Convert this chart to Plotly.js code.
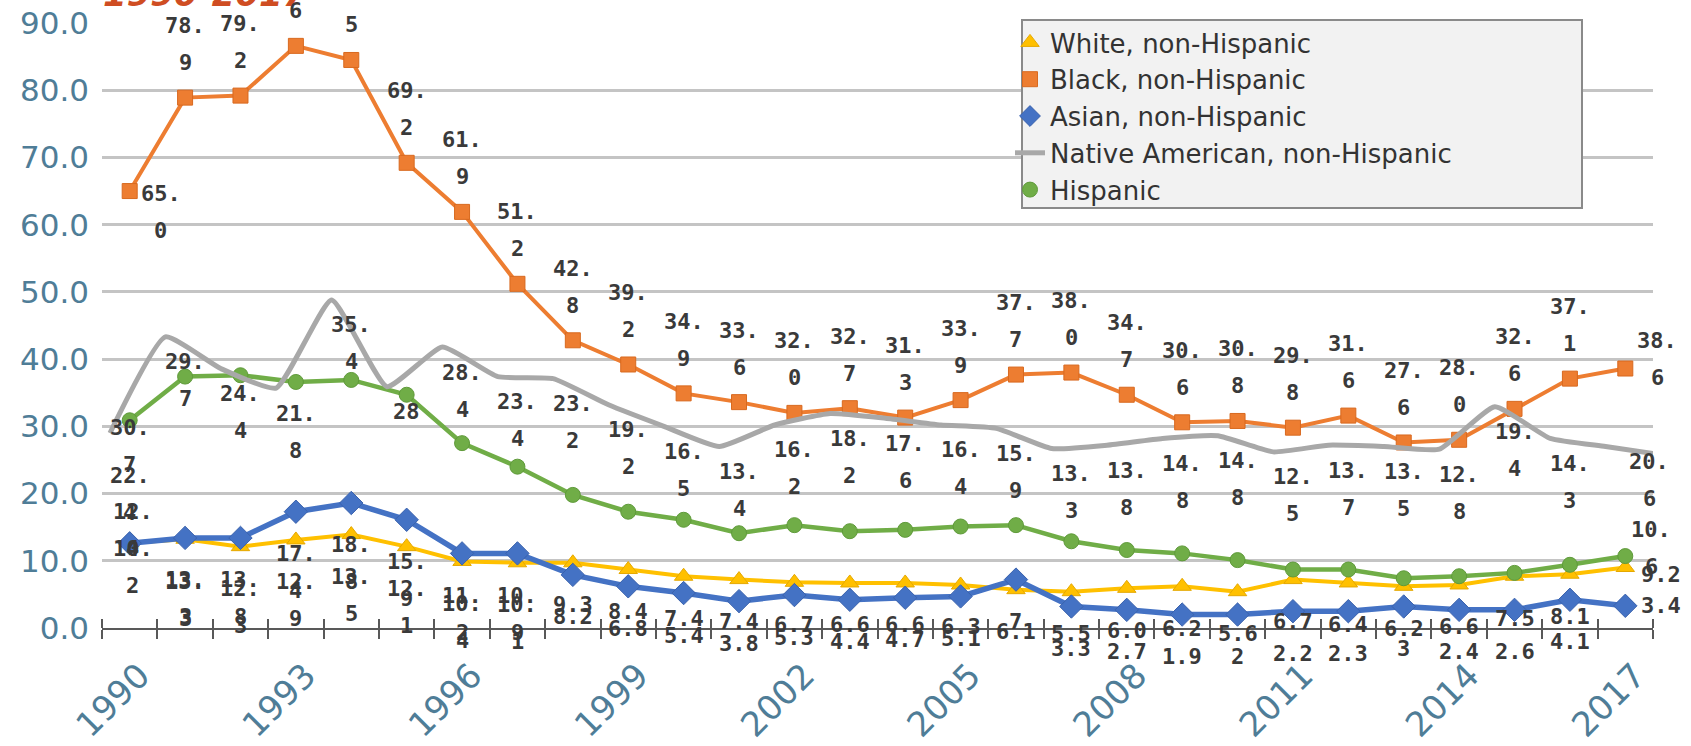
<!DOCTYPE html>
<html>
<head>
<meta charset="utf-8">
<script src="https://cdn.plot.ly/plotly-3.0.1.min.js"></script>
<style>html,body{margin:0;padding:0;background:#fff;}#chart{width:1691px;height:746px;}</style>
</head>
<body>
<div id="chart"></div>
<script>
// ---- data ----
const years = [1990,1991,1992,1993,1994,1995,1996,1997,1998,1999,2000,2001,2002,2003,2004,2005,2006,2007,2008,2009,2010,2011,2012,2013,2014,2015,2016,2017];
const tickYears = [1990,1993,1996,1999,2002,2005,2008,2011,2014,2017];
const tickLabels = ['1990','1993','1996','1999','2002','2005','2008','2011','2014','2017'];
const seriesNames = ['White, non-Hispanic','Black, non-Hispanic','Asian, non-Hispanic','Native American, non-Hispanic','Hispanic'];

const white = [12.7,13.2,12.1,13.1,13.9,12.1,9.9,9.7,9.7,8.7,7.7,7.2,6.8,6.7,6.7,6.4,5.7,5.4,5.9,6.2,5.4,7.2,6.7,6.2,6.4,7.7,8.0,9.0];
const black = [65.0,78.9,79.2,86.6,84.5,69.2,61.9,51.2,42.8,39.2,34.9,33.6,32.0,32.7,31.3,33.9,37.7,38.0,34.7,30.6,30.8,29.8,31.6,27.6,28.0,32.6,37.1,38.6];
const asian = [12.6,13.4,13.4,17.3,18.6,16.1,11.1,11.1,7.9,6.2,5.2,4.0,4.9,4.2,4.5,4.7,7.2,3.2,2.7,2.0,2.0,2.5,2.5,3.2,2.7,2.7,4.2,3.3];
const nativeAm = [29.0,43.3,38.6,35.7,48.8,35.9,41.8,37.4,37.1,33.2,30.0,27.0,30.2,31.9,31.2,30.2,29.7,26.7,27.2,28.2,28.6,26.2,27.2,27.0,26.6,32.9,28.2,27.0,25.8];
const hispanic = [30.9,37.4,37.6,36.6,36.9,34.7,27.5,24.0,19.8,17.3,16.1,14.1,15.3,14.4,14.6,15.1,15.3,12.9,11.6,11.1,10.1,8.7,8.7,7.4,7.7,8.2,9.4,10.7];

const whiteLabels = ['12.4','13.3','12.3','12.9','13.5','12.1','10.4','10.1','9.3','8.4','7.4','7.4','6.7','6.6','6.6','6.3','6.1','5.5','6.0','6.2','5.6','6.7','6.4','6.2','6.6','7.5','8.1','9.2'];
const blackLabels = ['65.0','78.9','79.2','86.6','84.5','69.2','61.9','51.2','42.8','39.2','34.9','33.6','32.0','32.7','31.3','33.9','37.7','38.0','34.7','30.6','30.8','29.8','31.6','27.6','28.0','32.6','37.1','38.6'];
const asianLabels = ['10.2','13.3','13.8','17.4','18.8','15.9','11.2','10.9','8.2','6.8','5.4','3.8','5.3','4.4','4.7','5.1','7','3.3','2.7','1.9','2','2.2','2.3','3','2.4','2.6','4.1','3.4'];
const nativeLabels = ['30.7','29.7','24.4','21.8','35.4','28','28.4','23.4','23.2','19.2','16.5','13.4','16.2','18.2','17.6','16.4','15.9','13.3','13.8','14.8','14.8','12.5','13.7','13.5','12.8','19.4','14.3','20.6'];
const hispanicLabels = ['22.4','','','','','','','','','','','','','','','','','','','','','','','','','','','10.6'];

// ---- styles ----
const FONT = 'DejaVu Sans, Verdana, sans-serif';
const AXIS_BLUE = '#4f7d97';
const colors = {white:'#ffc000', black:'#ed7d31', asian:'#4472c4', nativeAm:'#a8a8a8', hispanic:'#70ad47'};
const labelFont = {family:'DejaVu Sans Mono, monospace', size:22, color:'#3a3a3a', weight:'bold'};
const LINE_GAP = 37;

const nativeIdx = nativeAm.map((_, i) => i);

function lineTrace(x, y, color, width) {
  return {x:x, y:y, mode:'lines', showlegend:false, hoverinfo:'skip', line:{color:color, width:width}};
}
function markerTrace(x, y, name, color, edge, symbol, size) {
  return {x:x, y:y, mode:'markers', name:name, hoverinfo:'skip',
          marker:{symbol:symbol, size:size, color:color, line:{color:edge, width:1}}};
}

const data = [
  lineTrace(years, white, colors.white, 4),
  markerTrace(years, white, seriesNames[0], colors.white, '#e5a800', 'triangle-up', 16),
  lineTrace(years, black, colors.black, 4),
  markerTrace(years, black, seriesNames[1], colors.black, '#d8691f', 'square', 15),
  lineTrace(years, asian, colors.asian, 5.5),
  markerTrace(years, asian, seriesNames[2], colors.asian, '#3a62ad', 'diamond', 18),
  {x:nativeIdx, y:nativeAm, mode:'lines', xaxis:'x2', name:seriesNames[3], hoverinfo:'skip',
   line:{color:colors.nativeAm, width:5, shape:'spline', smoothing:0.45}},
  lineTrace(years, hispanic, colors.hispanic, 4.5),
  markerTrace(years, hispanic, seriesNames[4], colors.hispanic, '#5f9a3a', 'circle', 15)
];

// ---- data labels (two-line wrap like the original) ----
const annotations = [];
function splitLabel(s) {
  const i = s.indexOf('.');
  if (s.length >= 4 && i >= 0) return [s.slice(0, i + 1), s.slice(i + 1)];
  return [s];
}
function addLabels(xs, ys, labels, rule) {
  const n = labels.length;
  labels.forEach((s, i) => {
    if (!s) return;
    const lines = splitLabel(s);
    const p = rule(i, n, lines.length);
    lines.forEach((t, j) => {
      annotations.push({x:xs[i], y:ys[i], xref:'x', yref:'y', text:t, showarrow:false,
        xanchor:'center', yanchor:'middle', xshift:p.dx, yshift:-(p.dy + j * LINE_GAP), font:labelFont});
    });
  });
}
addLabels(years, black, blackLabels, (i, n, k) => i === 0 ? {dx:31, dy:2} : i === n - 1 ? {dx:32, dy:-28} : {dx:0, dy:k === 2 ? -72 : -35});
addLabels(years, nativeAm, nativeLabels, (i, n) => i === 0 ? {dx:0, dy:-6} : i === n - 1 ? {dx:24, dy:15} : {dx:0, dy:25});
addLabels(years, hispanic, hispanicLabels, (i, n) => i === 0 ? {dx:0, dy:55} : {dx:26, dy:-27});
addLabels(years, white, whiteLabels, (i, n) => i === 0 ? {dx:3, dy:-31} : i === n - 1 ? {dx:36, dy:7} : {dx:0, dy:42});
addLabels(years, asian, asianLabels, (i, n) => i === 0 ? {dx:3, dy:5} : i === n - 1 ? {dx:36, dy:0} : {dx:0, dy:42});

// ---- layout ----
const W = 1691, H = 746;
const M = {l:102, r:38, t:23, b:118};
const pw = W - M.l - M.r, ph = H - M.t - M.b;
const px2x = v => (v - M.l) / pw;
const px2y = v => (H - M.b - v) / ph;

const layout = {
  width:W, height:H,
  margin:{l:M.l, r:M.r, t:M.t, b:M.b, autoexpand:false},
  paper_bgcolor:'#ffffff', plot_bgcolor:'#ffffff',
  title:{text:'1990-2017', xref:'container', yref:'container', x:103 / W, xanchor:'left',
         y:1 - 6 / H, yanchor:'bottom',
         font:{family:FONT, size:34, color:'#cf4d22', weight:'bold', style:'italic'}},
  xaxis:{type:'linear', range:[1989.5, 2017.5], tickvals:tickYears, ticktext:tickLabels,
         tickangle:-45, tickfont:{family:FONT, size:34, color:AXIS_BLUE},
         ticklabelstandoff:12, ticklabelshift:10,
         ticks:'', showgrid:false, zeroline:false, showline:true, linecolor:'#595959', linewidth:2,
         minor:{ticks:'outside', ticklen:9, tickwidth:2, tickcolor:'#595959', tick0:1989.5, dtick:1, showgrid:false}},
  xaxis2:{overlaying:'x', anchor:'y', side:'bottom', range:[-0.144, 27.856], showticklabels:false,
          showgrid:false, zeroline:false, showline:false, ticks:'',
          minor:{ticks:'inside', ticklen:9, tickwidth:2, tickcolor:'#595959', tick0:-0.144, dtick:1, showgrid:false}},
  yaxis:{range:[0, 90], dtick:10, tick0:0, tickformat:'.1f', showgrid:true, gridcolor:'#c4c4c4', gridwidth:3,
         zeroline:false, showline:false, ticks:'', ticklabelstandoff:12,
         tickfont:{family:FONT, size:31, color:AXIS_BLUE}},
  showlegend:true,
  legend:{x:px2x(1010), y:px2y(19), xanchor:'left', yanchor:'top', bgcolor:'rgba(0,0,0,0)', borderwidth:0,
          font:{family:FONT, size:26, color:'#333333'}, tracegroupgap:0, itemwidth:30},
  shapes:[{type:'rect', xref:'paper', yref:'paper', x0:px2x(1022), x1:px2x(1582), y0:px2y(208), y1:px2y(20),
           fillcolor:'#f2f2f2', line:{color:'#8a8a8a', width:2}, layer:'above'}],
  annotations:annotations
};

Plotly.newPlot('chart', data, layout, {displayModeBar:false, staticPlot:true});
</script>
</body>
</html>
